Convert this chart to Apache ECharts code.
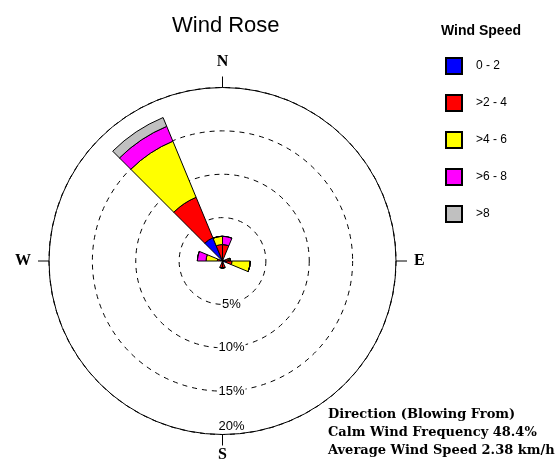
<!DOCTYPE html>
<html>
<head>
<meta charset="utf-8">
<script src="https://cdn.jsdelivr.net/npm/echarts@6/dist/echarts.min.js"></script>
<style>
html,body{margin:0;padding:0;background:#fff;}
#chart{width:557px;height:464px;}
</style>
</head>
<body>
<div id="chart"></div>
<script>
// Direction bands (each band spans 22.5 degrees clockwise from its name)
const directions = ['N','NNE','NE','ENE','E','ESE','SE','SSE','S','SSW','SW','WSW','W','WNW','NW','NNW'];
// Frequencies (%) per speed class
const speed0to2  = [0.3, 0, 0, 0.3, 0.5, 0, 0, 0.3, 0.3, 0, 0, 0, 0.3, 0, 2.9, 0.3];
const speed2to4  = [1.6, 0, 0, 0.4, 0.6, 0, 0, 0.5, 0.5, 0, 0, 0, 0.3, 0, 5.05, 1.6];
const speed4to6  = [0,   0, 0, 0.2, 2.1, 0, 0, 0,   0,   0, 0, 0, 1.3, 0, 7.0, 0.95];
const speed6to8  = [0.95,0, 0, 0,   0,   0, 0, 0,   0,   0, 0, 0, 1.0, 0, 1.85, 0];
const speedOver8 = [0,   0, 0, 0,   0,   0, 0, 0,   0,   0, 0, 0, 0,   0, 1.1, 0];
const speedLabels = ['0 - 2', '>2 - 4', '>4 - 6', '>6 - 8', '>8'];
const speedColors = ['#0000ff', '#ff0000', '#ffff00', '#ff00ff', '#c0c0c0'];
// Compass tick labels (starting at South, clockwise every 90 degrees)
const compassLabels = ['S', 'W', 'N', 'E'];
// Ring labels
const ringTicks = [5, 10, 15, 20];
const notes = ['Direction (Blowing From)', 'Calm Wind Frequency 48.4%', 'Average Wind Speed 2.38 km/h'];

const seriesData = [speed0to2, speed2to4, speed4to6, speed6to8, speedOver8];
const sans = 'Liberation Sans, Arial, sans-serif';
const serif = 'Liberation Serif, Times New Roman, serif';
const wideSerif = 'DejaVu Serif, Liberation Serif, serif';
const compassStyle = {fontSize: 16, fontWeight: 'bold', fontFamily: serif, color: '#000'};

const chart = echarts.init(document.getElementById('chart'), null, {renderer: 'canvas'});
const option = {
  animation: false,
  backgroundColor: '#fff',
  title: [
    {text: 'Wind Rose', left: 172, top: 15, padding: 0,
     textStyle: {fontSize: 22, fontWeight: 'normal', fontFamily: sans, color: '#000'}},
    {text: 'Wind Speed', left: 441, top: 24, padding: 0,
     textStyle: {fontSize: 14, fontWeight: 'bold', fontFamily: sans, color: '#000'}},
    {text: notes.join('\n'), left: 328, top: 406, padding: 0,
     textStyle: {fontSize: 13, fontWeight: 'bold', fontFamily: wideSerif, color: '#000', lineHeight: 18}}
  ],
  legend: {
    orient: 'vertical', left: 445, top: 57, padding: 0,
    itemWidth: 16, itemHeight: 16, itemGap: 19, icon: 'rect',
    selectedMode: false,
    data: speedLabels,
    textStyle: {fontSize: 12, fontFamily: sans, color: '#000', padding: [0, 0, 0, 9]}
  },
  polar: [
    {center: [222.5, 261], radius: 173.5},
    {center: [222.5, 261], radius: 173.5}
  ],
  angleAxis: [
    {polarIndex: 0, type: 'category', data: directions, startAngle: 90, clockwise: true,
     axisLine: {show: false}, axisTick: {show: false}, axisLabel: {show: false}, splitLine: {show: false}},
    {polarIndex: 1, type: 'value', min: 0, max: 360, interval: 90, startAngle: 270, clockwise: true,
     axisLine: {show: true, lineStyle: {color: '#000', width: 1}},
     axisTick: {show: true, inside: false, length: 11, lineStyle: {color: '#000', width: 1}},
     axisLabel: {margin: 12, fontSize: 16, fontWeight: 'bold', fontFamily: serif, color: '#000',
       formatter: function (v) {
         const t = compassLabels[v / 90];
         return t ? '{' + t + '|' + t + '}' : '';
       },
       rich: {
         S: Object.assign({}, compassStyle),
         N: Object.assign({padding: [0, 0, 6, 0]}, compassStyle),
         W: Object.assign({padding: [0, 6, 0, 0]}, compassStyle),
         E: Object.assign({padding: [0, 0, 0, 6]}, compassStyle)
       }},
     splitLine: {show: false}}
  ],
  radiusAxis: [
    {polarIndex: 0, type: 'value', min: 0, max: 20,
     axisLine: {show: false}, axisTick: {show: false}, axisLabel: {show: false}, splitLine: {show: false}},
    {polarIndex: 1, type: 'value', min: 0, max: 20, interval: 5,
     axisLine: {show: false}, axisTick: {show: false},
     axisLabel: {margin: 9, align: 'center', fontSize: 13, fontFamily: sans, color: '#000',
       formatter: function (v) {
         if (ringTicks.indexOf(v) < 0) return '';
         return v === 20 ? '{o|' + v + '%}' : '{r|' + v + '%}';
       },
       rich: {
         r: {fontSize: 13, fontFamily: sans, color: '#000', backgroundColor: '#fff', padding: [0, 1]},
         o: {fontSize: 13, fontFamily: sans, color: '#000', padding: [0, 0, 16, 0]}
       }},
     splitLine: {show: true, lineStyle: {color: '#000', width: 1, type: [5, 5]}}}
  ],
  series: seriesData.map(function (d, i) {
    return {
      type: 'bar', name: speedLabels[i], coordinateSystem: 'polar', polarIndex: 0,
      stack: 'wind', data: d, barCategoryGap: '0%', z: 5,
      itemStyle: {color: speedColors[i], borderColor: '#000', borderWidth: 1},
      emphasis: {disabled: true}
    };
  })
};
chart.setOption(option);
</script>
</body>
</html>
